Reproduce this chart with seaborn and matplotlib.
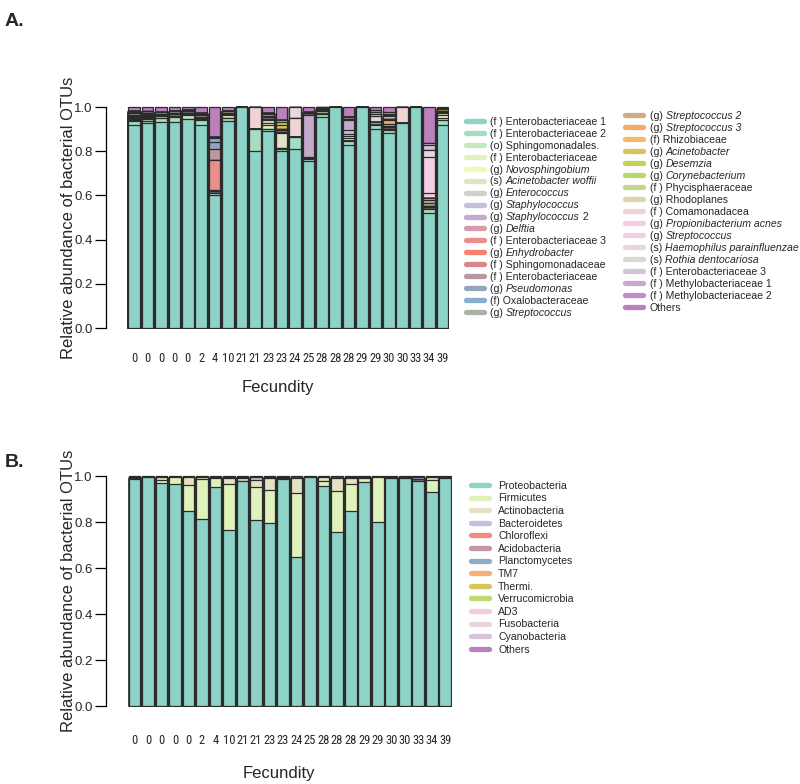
import matplotlib
matplotlib.use("Agg")
import matplotlib.pyplot as plt
import numpy as np
import pandas as pd
import seaborn as sns
from matplotlib import font_manager
from matplotlib.lines import Line2D

# sample fecundity labels (same 24 samples in both panels)
fecundity = [0, 0, 0, 0, 0, 2, 4, 10, 21, 21, 23, 23, 24, 25, 28, 28, 28, 29, 29, 30, 30, 33, 34, 39]
sample_ids = [f"S{i + 1}" for i in range(len(fecundity))]

# ---- panel A: OTU level (text between * * is set in italics) ----
otu_labels = [
    "(f ) Enterobacteriaceae 1", "(f ) Enterobacteriaceae 2", "(o) Sphingomonadales.",
    "(f ) Enterobacteriaceae", "(g) *Novosphingobium*", "(s) *Acinetobacter woffii*",
    "(g) *Enterococcus*", "(g) *Staphylococcus*", "(g) *Staphylococcus* 2",
    "(g) *Delftia*", "(f ) Enterobacteriaceae 3", "(g) *Enhydrobacter*",
    "(f ) Sphingomonadaceae", "(f ) Enterobacteriaceae", "(g) *Pseudomonas*",
    "(f) Oxalobacteraceae", "(g) *Streptococcus*",
    "(g) *Streptococcus 2*", "(g) *Streptococcus 3*", "(f) Rhizobiaceae",
    "(g) *Acinetobacter*", "(g) *Desemzia*", "(g) *Corynebacterium*",
    "(f ) Phycisphaeraceae", "(g) Rhodoplanes", "(f ) Comamonadacea",
    "(g) *Propionibacterium acnes*", "(g) *Streptococcus*",
    "(s) *Haemophilus parainfluenzae*", "(s) *Rothia dentocariosa*",
    "(f ) Enterobacteriaceae 3", "(f ) Methylobacteriaceae 1", "(f ) Methylobacteriaceae 2", "Others",
]
otu_colors = [
    "#8DD3C7", "#A6DCC0", "#C6E8C0", "#E1F2BE", "#F5F7B5", "#E3E2C5", "#D2D0CA", "#C3C0DB",
    "#C7A9CD", "#D89BA9", "#EC8D8B", "#F7806F", "#D9878D", "#BA98A1", "#93A3C0", "#86AECE",
    "#A9B3A3", "#CFAB88", "#F4A86C", "#F6B96C", "#D8C25E", "#C5D156", "#B3DB6B", "#C4D68C",
    "#DCD4AA", "#F0D3D3", "#F8CDE1", "#F2CFE0", "#E6D7E0", "#D9D8D8", "#D3C5D9", "#CBA8CE",
    "#C48DC7", "#BC80BD",
]

ent1 = [0.92, 0.926, 0.93, 0.93, 0.945, 0.92, 0.60, 0.937, 1.0, 0.80, 0.89, 0.80,
        0.81, 0.755, 0.956, 1.0, 0.83, 1.0, 0.90, 0.884, 0.926, 1.0, 0.52, 0.92]
ent2 = [0.015, 0.012, 0.02, 0.025, 0, 0.02, 0.012, 0.015, 0, 0.10, 0.012, 0.01,
        0.056, 0.01, 0.012, 0, 0.015, 0, 0.018, 0.012, 0, 0, 0.018, 0.02]
sphingomonadales = [0.005, 0, 0, 0, 0.018, 0, 0, 0, 0, 0, 0, 0, 0, 0, 0, 0, 0, 0, 0, 0, 0, 0, 0, 0]
entero = [0, 0.006, 0, 0, 0, 0, 0, 0, 0, 0, 0.015, 0.004, 0, 0, 0, 0, 0.008, 0, 0, 0, 0, 0, 0, 0.01]
novosphingobium = [0, 0, 0.008, 0, 0.007, 0.006, 0, 0.01, 0, 0, 0.01, 0, 0, 0, 0, 0, 0.008, 0, 0, 0, 0, 0, 0, 0.012]
acineto_woffii = [0.008, 0, 0, 0.006, 0, 0.006, 0, 0, 0, 0, 0.015, 0.07, 0, 0, 0, 0, 0.008, 0, 0, 0, 0, 0, 0, 0.01]
enterococcus = [0.004, 0.005, 0, 0, 0, 0, 0, 0, 0, 0, 0, 0, 0, 0.005, 0, 0, 0.008, 0, 0, 0.006, 0, 0, 0, 0]
staph = [0, 0, 0, 0, 0, 0, 0, 0, 0, 0, 0, 0, 0, 0.005, 0, 0, 0.02, 0, 0, 0, 0, 0, 0, 0]
staph2 = [0, 0, 0, 0, 0, 0, 0.006, 0, 0, 0, 0, 0, 0, 0.19, 0, 0, 0.045, 0, 0, 0, 0, 0, 0, 0]
delftia = [0.004, 0.005, 0, 0.006, 0.005, 0, 0.007, 0.005, 0, 0, 0.006, 0.005, 0, 0, 0, 0, 0, 0, 0, 0, 0, 0, 0.008, 0.006]
ent3 = [0, 0, 0, 0, 0, 0, 0.135, 0, 0, 0, 0, 0, 0, 0, 0, 0, 0, 0, 0, 0, 0, 0, 0, 0]
enhydrobacter = [0, 0, 0, 0, 0, 0.005, 0, 0, 0, 0, 0, 0, 0, 0, 0, 0, 0, 0, 0, 0, 0, 0, 0, 0]
sphingomonadaceae = [0.005, 0, 0.005, 0, 0, 0, 0, 0, 0, 0, 0, 0, 0, 0, 0, 0, 0, 0, 0, 0, 0, 0, 0, 0]
entero_b = [0.005, 0.006, 0, 0.008, 0, 0.005, 0.05, 0.006, 0, 0, 0.006, 0.005, 0, 0, 0, 0, 0.006, 0, 0, 0.006, 0, 0, 0.008, 0]
pseudomonas = [0, 0, 0, 0, 0.006, 0, 0.03, 0, 0, 0, 0, 0, 0, 0, 0, 0, 0, 0, 0, 0, 0, 0, 0, 0]
oxalobacteraceae = [0, 0, 0, 0, 0, 0, 0.018, 0, 0, 0, 0, 0, 0, 0, 0, 0, 0, 0, 0, 0, 0, 0, 0, 0]
streptococcus = [0.006, 0.006, 0.007, 0.007, 0, 0.006, 0.004, 0.007, 0, 0, 0.007, 0.005, 0, 0.006, 0.012, 0, 0.006, 0, 0.016, 0.008, 0, 0, 0.012, 0.006]
strep2 = [0, 0, 0, 0, 0.004, 0, 0, 0, 0, 0, 0, 0, 0, 0, 0, 0, 0, 0, 0, 0.008, 0, 0, 0.012, 0]
strep3 = [0.004, 0.004, 0, 0, 0, 0, 0, 0, 0, 0, 0.006, 0, 0, 0, 0, 0, 0, 0, 0, 0.016, 0, 0, 0.012, 0]
rhizobiaceae = [0, 0, 0, 0, 0, 0, 0, 0, 0, 0, 0, 0, 0, 0, 0, 0, 0, 0, 0, 0.008, 0, 0, 0, 0]
acinetobacter = [0.004, 0, 0.006, 0, 0, 0.006, 0.004, 0, 0, 0, 0.005, 0.02, 0, 0.006, 0.006, 0, 0, 0, 0, 0, 0, 0, 0, 0.006]
desemzia = [0, 0, 0, 0, 0, 0, 0, 0, 0, 0, 0, 0.015, 0, 0, 0, 0, 0, 0, 0, 0, 0, 0, 0, 0]
corynebacterium = [0, 0.005, 0, 0, 0, 0, 0, 0, 0, 0, 0, 0.006, 0, 0, 0, 0, 0, 0, 0, 0, 0, 0, 0, 0]
phycisphaeraceae = [0] * 24
rhodoplanes = [0, 0, 0, 0, 0, 0, 0, 0, 0, 0, 0, 0, 0, 0, 0.006, 0, 0, 0, 0, 0.01, 0, 0, 0, 0.004]
comamonadacea = [0, 0, 0, 0, 0, 0, 0, 0, 0, 0.10, 0, 0, 0.086, 0, 0, 0, 0, 0, 0, 0, 0.074, 0, 0, 0]
propioni = [0, 0, 0, 0, 0, 0, 0, 0, 0, 0, 0, 0, 0, 0, 0, 0, 0, 0, 0, 0, 0, 0, 0.02, 0]
strep_pink = [0, 0, 0, 0, 0, 0, 0, 0, 0, 0, 0, 0, 0, 0, 0, 0, 0, 0, 0, 0, 0, 0, 0.165, 0]
haemophilus = [0, 0, 0, 0, 0, 0, 0, 0, 0, 0, 0, 0, 0.048, 0, 0, 0, 0, 0, 0, 0, 0, 0, 0.03, 0]
rothia = [0, 0.005, 0, 0, 0, 0, 0, 0, 0, 0, 0, 0, 0, 0, 0.004, 0, 0, 0, 0.027, 0.006, 0, 0, 0, 0]
ent3_b = [0, 0, 0, 0, 0, 0, 0, 0, 0, 0, 0, 0, 0, 0, 0, 0, 0, 0, 0.008, 0, 0, 0, 0.025, 0]
methylo1 = [0, 0, 0, 0, 0, 0, 0, 0, 0, 0, 0, 0, 0, 0, 0.004, 0, 0, 0, 0.008, 0.006, 0, 0, 0.006, 0.003]
methylo2 = [0, 0, 0, 0, 0, 0, 0, 0, 0, 0, 0, 0, 0, 0, 0, 0, 0, 0, 0.008, 0.006, 0, 0, 0, 0]
others_a = [0.02, 0.02, 0.024, 0.018, 0.015, 0.026, 0.134, 0.02, 0, 0, 0.028, 0.06,
            0, 0.023, 0, 0, 0.046, 0, 0.015, 0.024, 0, 0, 0.164, 0.003]

otu_series = [ent1, ent2, sphingomonadales, entero, novosphingobium, acineto_woffii, enterococcus,
              staph, staph2, delftia, ent3, enhydrobacter, sphingomonadaceae, entero_b, pseudomonas,
              oxalobacteraceae, streptococcus, strep2, strep3, rhizobiaceae, acinetobacter, desemzia,
              corynebacterium, phycisphaeraceae, rhodoplanes, comamonadacea, propioni, strep_pink,
              haemophilus, rothia, ent3_b, methylo1, methylo2, others_a]

# ---- panel B: phylum level ----
phylum_labels = ["Proteobacteria", "Firmicutes", "Actinobacteria", "Bacteroidetes", "Chloroflexi",
                 "Acidobacteria", "Planctomycetes", "TM7", "Thermi.", "Verrucomicrobia", "AD3",
                 "Fusobacteria", "Cyanobacteria", "Others"]
phylum_colors = ["#8DD3C7", "#E0F2BB", "#E6E1C5", "#C5BEDF", "#F08A84", "#C497A5", "#8FADC9",
                 "#F3B273", "#D8C55F", "#BFDA70", "#F6CBDD", "#E5D6DF", "#D6C3D8", "#BC80BD"]

proteobacteria = [0.985, 0.995, 0.968, 0.965, 0.848, 0.812, 0.951, 0.765, 0.98, 0.809, 0.797, 0.986,
                  0.649, 0.995, 0.957, 0.758, 0.849, 0.975, 0.799, 0.99, 0.99, 0.98, 0.932, 0.99]
firmicutes = [0.004, 0, 0.015, 0.03, 0.112, 0.175, 0.042, 0.20, 0, 0.145, 0.143, 0.004,
              0.276, 0, 0.02, 0.178, 0.116, 0.015, 0.196, 0, 0, 0, 0.05, 0.003]
actinobacteria = [0.004, 0, 0.014, 0.002, 0.035, 0.01, 0.003, 0.026, 0.01, 0.028, 0.05, 0.006,
                  0.068, 0, 0.018, 0.057, 0.026, 0.004, 0, 0, 0, 0, 0.012, 0.003]
bacteroidetes = [0, 0, 0, 0, 0, 0, 0, 0, 0, 0.012, 0, 0, 0, 0, 0, 0, 0, 0, 0, 0, 0, 0, 0, 0]
chloroflexi = [0, 0, 0, 0, 0, 0, 0, 0.003, 0, 0, 0, 0, 0, 0, 0, 0, 0, 0, 0, 0, 0.004, 0, 0, 0]
acidobacteria = [0.003, 0, 0, 0, 0, 0, 0, 0, 0.004, 0, 0, 0, 0, 0, 0, 0, 0.003, 0, 0, 0.004, 0, 0.006, 0, 0]
planctomycetes = [0, 0, 0, 0, 0.002, 0, 0, 0, 0, 0, 0, 0, 0, 0, 0, 0, 0, 0, 0, 0, 0, 0.008, 0, 0]
tm7 = [0, 0, 0, 0, 0, 0, 0, 0, 0, 0, 0.004, 0, 0, 0, 0, 0, 0, 0, 0, 0, 0, 0, 0, 0]
thermi = [0] * 24
verrucomicrobia = [0] * 24
ad3 = [0] * 24
fusobacteria = [0] * 24
cyanobacteria = [0] * 24
others_b = [0.004, 0.005, 0.003, 0.003, 0.003, 0.003, 0.004, 0.006, 0.006, 0.006, 0.006, 0.004,
            0.007, 0.005, 0.005, 0.007, 0.006, 0.006, 0.005, 0.006, 0.006, 0.006, 0.006, 0.004]

phylum_series = [proteobacteria, firmicutes, actinobacteria, bacteroidetes, chloroflexi, acidobacteria,
                 planctomycetes, tm7, thermi, verrucomicrobia, ad3, fusobacteria, cyanobacteria, others_b]

W, H = 800, 784
KEY_FS = 7.6


def draw_stack(ax, series, colors):
    # seaborn has no stacked bars: draw cumulative totals from the top layer down
    cum = np.cumsum(np.array(series, dtype=float), axis=0)
    for k in range(len(series) - 1, -1, -1):
        df = pd.DataFrame({"sample": sample_ids, "value": cum[k]})
        sns.barplot(data=df, x="sample", y="value", order=sample_ids, color=colors[k],
                    saturation=1, width=0.87, edgecolor="#2b2b2b", linewidth=0.9,
                    errorbar=None, ax=ax)


def style_axis(ax, tick_pad, xlabel_pad):
    ax.set_xlim(-2.1, 23.5)
    ax.set_ylim(-0.003, 1.005)
    ax.set_yticks(np.arange(0, 1.01, 0.2))
    ax.set_yticklabels([f"{v:.1f}" for v in np.arange(0, 1.01, 0.2)], fontsize=9.5)
    ax.set_xticks(range(len(fecundity)))
    ax.set_xticklabels([str(v) for v in fecundity], **tick_font)
    ax.tick_params(axis="x", length=0, pad=tick_pad)
    ax.tick_params(axis="y", length=8, width=0.9, pad=1.5, color="black")
    for side in ["top", "right", "bottom"]:
        ax.spines[side].set_visible(False)
    ax.spines["left"].set_bounds(0, 1)
    ax.spines["left"].set_linewidth(0.9)
    ax.spines["left"].set_color("black")
    ax.set_xlabel("Fecundity", fontsize=12, labelpad=xlabel_pad)
    ax.set_ylabel("Relative abundance of bacterial OTUs", fontsize=12, labelpad=-1)


def text_width(fig, renderer, s, style):
    # width in pixels, keeping trailing spaces by measuring against a sentinel
    t1 = fig.text(0, 0, s + "|", fontsize=KEY_FS, style=style)
    t2 = fig.text(0, 0, "|", fontsize=KEY_FS, style=style)
    w = t1.get_window_extent(renderer).width - t2.get_window_extent(renderer).width
    t1.remove()
    t2.remove()
    return w


def draw_key(fig, renderer, x0, y0, pitch, labels, colors, text_gap):
    # R-style key: short rounded colour strokes, fixed row pitch (pixels)
    for i, (lab, col) in enumerate(zip(labels, colors)):
        yc = y0 + i * pitch
        y = 1 - yc / H
        fig.add_artist(Line2D([(x0 + 2.5) / W, (x0 + 20.5) / W], [y, y], transform=fig.transFigure,
                              color=col, lw=3.8, solid_capstyle="round"))
        xb = x0 + 23 + text_gap
        yb = 1 - (yc + 3.8) / H
        for j, seg in enumerate(lab.split("*")):
            if not seg:
                continue
            style = "italic" if j % 2 else "normal"
            fig.text(xb / W, yb, seg, fontsize=KEY_FS, style=style, va="baseline", ha="left")
            xb += text_width(fig, renderer, seg, style)


sns.set_style("ticks")
plt.rcParams["font.family"] = ["Liberation Sans", "DejaVu Sans"]

# the x labels in the original are in a condensed face
fonts = font_manager.fontManager.ttflist
names = {f.name for f in fonts}
if "Liberation Sans Narrow" in names:
    tick_font = dict(family="Liberation Sans Narrow", fontsize=9)
elif "Roboto Condensed" in names:
    tick_font = dict(family="Roboto Condensed", fontsize=9)
elif any(f.name == "DejaVu Sans" and "condensed" in str(f.stretch) for f in fonts):
    tick_font = dict(family="DejaVu Sans", stretch="condensed", fontsize=8)
else:
    tick_font = dict(family="Liberation Sans", fontsize=7.5)

fig = plt.figure(figsize=(W / 100, H / 100), dpi=100)
renderer = fig.canvas.get_renderer()

axA = fig.add_axes([0.1325, 0.5807, 0.4288, 0.2842])
draw_stack(axA, otu_series, otu_colors)
style_axis(axA, tick_pad=16.5, xlabel_pad=11)

axB = fig.add_axes([0.1325, 0.0986, 0.4325, 0.2957])
draw_stack(axB, phylum_series, phylum_colors)
style_axis(axB, tick_pad=20, xlabel_pad=13)

fig.text(0.006, 0.972, "A.", fontsize=14, fontweight="bold", va="center")
fig.text(0.006, 1 - 463 / H, "B.", fontsize=14, fontweight="bold", va="center")

draw_key(fig, renderer, 463, 121, 11.94, otu_labels[:17], otu_colors[:17], text_gap=4)
draw_key(fig, renderer, 622, 115, 12.0, otu_labels[17:], otu_colors[17:], text_gap=5)
draw_key(fig, renderer, 468, 485, 12.6, phylum_labels, phylum_colors, text_gap=7)

fig.savefig("out.png", dpi=100)
